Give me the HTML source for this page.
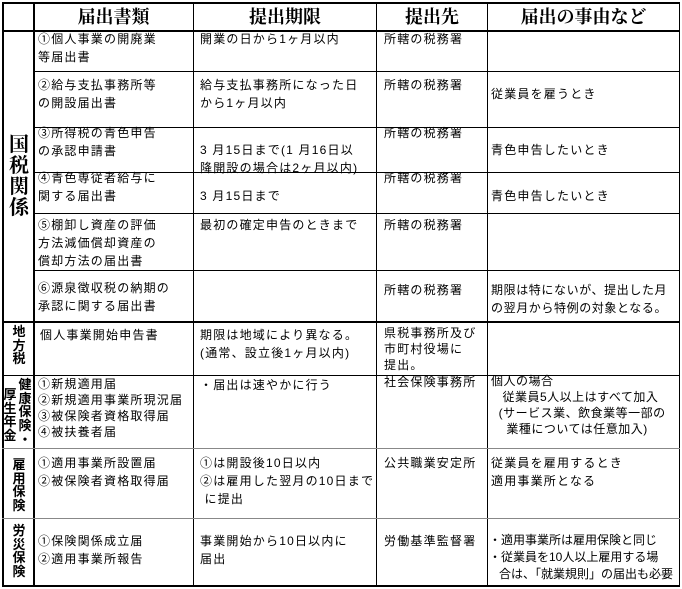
<!DOCTYPE html>
<html><head><meta charset="utf-8"><style>
body{margin:0;width:682px;height:589px;background:#fff;position:relative;overflow:hidden;font-family:"Liberation Sans","Noto Sans CJK JP",sans-serif;color:#000}
.l{position:absolute;background:#000}
.t{position:absolute;font-size:12px;line-height:18px;white-space:pre;letter-spacing:1.2px}
.h{position:absolute;font-size:18px;top:5px;text-align:center;line-height:22px;font-family:"Noto Serif CJK SC",serif;font-weight:bold}
.v{position:absolute;font-weight:bold;text-align:center;line-height:1.05}
</style></head><body>
<div class="l" style="left:2px;top:2px;width:678px;height:2px"></div>
<div class="l" style="left:2px;top:585px;width:678px;height:2px"></div>
<div class="l" style="left:2px;top:2px;width:2px;height:585px"></div>
<div class="l" style="left:679px;top:2px;width:1px;height:585px"></div>
<div class="l" style="left:33px;top:2px;width:2px;height:585px"></div>
<div class="l" style="left:193px;top:2px;width:1px;height:585px"></div>
<div class="l" style="left:376px;top:2px;width:1px;height:585px"></div>
<div class="l" style="left:487px;top:2px;width:1px;height:585px"></div>
<div class="l" style="left:2px;top:30px;width:678px;height:2px"></div>
<div class="l" style="left:34px;top:71px;width:646px;height:1px"></div>
<div class="l" style="left:34px;top:127px;width:646px;height:1px"></div>
<div class="l" style="left:34px;top:172px;width:646px;height:1px"></div>
<div class="l" style="left:34px;top:213px;width:646px;height:1px"></div>
<div class="l" style="left:34px;top:270px;width:646px;height:1px"></div>
<div class="l" style="left:2px;top:321px;width:678px;height:2px"></div>
<div class="l" style="left:2px;top:375px;width:678px;height:1px"></div>
<div class="l" style="left:2px;top:448px;width:678px;height:1px;background:#888"></div>
<div class="l" style="left:2px;top:518px;width:678px;height:1px;background:#888"></div>
<div class="h" style="left:34px;width:159px">届出書類</div>
<div class="h" style="left:194px;width:182px">提出期限</div>
<div class="h" style="left:377px;width:110px">提出先</div>
<div class="h" style="left:488px;width:191px">届出の事由など</div>
<div class="v" style="left:5px;top:132px;width:28px;font-size:20px;font-family:'Noto Serif CJK SC',serif">国<br>税<br>関<br>係</div>
<div class="v" style="left:5px;top:325px;width:28px;font-size:13px">地<br>方<br>税</div>
<div class="v" style="left:3px;top:388px;width:14px;font-size:13px">厚<br>生<br>年<br>金</div>
<div class="v" style="left:17px;top:378px;width:16px;font-size:13px">健<br>康<br>保<br>険<br>・</div>
<div class="v" style="left:5px;top:458px;width:28px;font-size:13px">雇<br>用<br>保<br>険</div>
<div class="v" style="left:5px;top:524px;width:28px;font-size:13px">労<br>災<br>保<br>険</div>
<div class="t" style="left:38px;top:30px">①個人事業の開廃業
等届出書</div>
<div class="t" style="left:38px;top:76px">②給与支払事務所等
の開設届出書</div>
<div class="t" style="left:38px;top:124px">③所得税の青色申告
の承認申請書</div>
<div class="t" style="left:38px;top:169px">④青色専従者給与に
関する届出書</div>
<div class="t" style="left:38px;top:216px">⑤棚卸し資産の評価
方法減価償却資産の
償却方法の届出書</div>
<div class="t" style="left:38px;top:279px">⑥源泉徴収税の納期の
承認に関する届出書</div>
<div class="t" style="left:40px;top:326px">個人事業開始申告書</div>
<div class="t" style="left:38px;top:376px;line-height:16px">①新規適用届
②新規適用事業所現況届
③被保険者資格取得届
④被扶養者届</div>
<div class="t" style="left:38px;top:454px">①適用事業所設置届
②被保険者資格取得届</div>
<div class="t" style="left:38px;top:532px">①保険関係成立届
②適用事業所報告</div>
<div class="t" style="left:200px;top:30px">開業の日から1ヶ月以内</div>
<div class="t" style="left:200px;top:76px">給与支払事務所になった日
から1ヶ月以内</div>
<div class="t" style="left:200px;top:141px">3 月15日まで(1 月16日以
降開設の場合は2ヶ月以内)</div>
<div class="t" style="left:200px;top:187px">3 月15日まで</div>
<div class="t" style="left:200px;top:216px">最初の確定申告のときまで</div>
<div class="t" style="left:200px;top:326px">期限は地域により異なる。
(通常、設立後1ヶ月以内)</div>
<div class="t" style="left:200px;top:376px">・届出は速やかに行う</div>
<div class="t" style="left:200px;top:454px">①は開設後10日以内
②は雇用した翌月の10日まで
 に提出</div>
<div class="t" style="left:200px;top:532px">事業開始から10日以内に
届出</div>
<div class="t" style="left:384px;top:30px">所轄の税務署</div>
<div class="t" style="left:384px;top:76px">所轄の税務署</div>
<div class="t" style="left:384px;top:124px">所轄の税務署</div>
<div class="t" style="left:384px;top:169px">所轄の税務署</div>
<div class="t" style="left:384px;top:216px">所轄の税務署</div>
<div class="t" style="left:384px;top:281px">所轄の税務署</div>
<div class="t" style="left:384px;top:325px;line-height:16px">県税事務所及び
市町村役場に
提出。</div>
<div class="t" style="left:384px;top:373px">社会保険事務所</div>
<div class="t" style="left:384px;top:454px">公共職業安定所</div>
<div class="t" style="left:384px;top:532px">労働基準監督署</div>
<div class="t" style="left:491px;top:85px">従業員を雇うとき</div>
<div class="t" style="left:491px;top:141px">青色申告したいとき</div>
<div class="t" style="left:491px;top:187px">青色申告したいとき</div>
<div class="t" style="left:491px;top:281px;letter-spacing:0.6px">期限は特にないが、提出した月
の翌月から特例の対象となる。</div>
<div class="t" style="left:491px;top:373px;line-height:16px;letter-spacing:0.5px">個人の場合
   従業員5人以上はすべて加入
  (サービス業、飲食業等一部の
    業種については任意加入)</div>
<div class="t" style="left:491px;top:454px">従業員を雇用するとき
適用事業所となる</div>
<div class="t" style="left:489px;top:532px;line-height:17px;letter-spacing:0px">・適用事業所は雇用保険と同じ
・従業員を10人以上雇用する場
   合は、「就業規則」の届出も必要</div>
</body></html>
